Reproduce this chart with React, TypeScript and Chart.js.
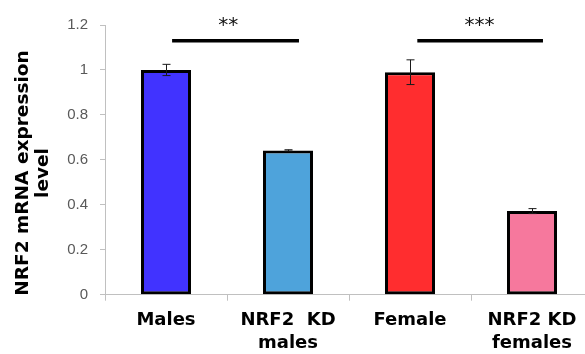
import React, { useEffect, useRef } from "react";
import { Chart, registerables } from "chart.js";

Chart.register(...registerables);

// Groups along the x axis (multi-line labels)
const groups: string[][] = [["Males"], ["NRF2  KD", "males"], ["Female"], ["NRF2 KD", "females"]];
// Relative NRF2 mRNA expression and standard error
const expression = [1.0, 0.642, 0.99, 0.372];
const stdError = [0.025, 0.003, 0.055, 0.011];
const barColors = ["#4133FF", "#4EA3DB", "#FF2D2F", "#F6789D"];
// Y axis tick values
const yTicks = [0, 0.2, 0.4, 0.6, 0.8, 1, 1.2];
const yTitle = ["NRF2 mRNA expression", "level"];
// Significance brackets: start/end (category index), height, label position
const sigFrom = [0.05, 2.06];
const sigTo = [1.09, 3.09];
const sigLevel = [1.13, 1.13];
const sigLabelAt = [0.51, 2.57];
const sigLabels = ["**", "***"];

const overlays = {
  id: "overlays",
  afterDatasetsDraw(chart: any) {
    const { ctx } = chart;
    const x = chart.scales.x;
    const y = chart.scales.y;
    ctx.save();
    // error bars
    ctx.strokeStyle = "#1a1a1a";
    ctx.lineWidth = 1;
    expression.forEach((v, i) => {
      const cx = Math.round(x.getPixelForValue(i)) + 0.5;
      const hi = y.getPixelForValue(v + stdError[i]);
      const lo = y.getPixelForValue(v - stdError[i]);
      ctx.beginPath();
      ctx.moveTo(cx, hi);
      ctx.lineTo(cx, lo);
      ctx.moveTo(cx - 4, hi);
      ctx.lineTo(cx + 4, hi);
      ctx.moveTo(cx - 4, lo);
      ctx.lineTo(cx + 4, lo);
      ctx.stroke();
    });
    // significance lines and stars
    ctx.strokeStyle = "#000";
    ctx.lineWidth = 3.5;
    ctx.fillStyle = "#111";
    ctx.font = "20px 'DejaVu Sans'";
    ctx.textAlign = "center";
    ctx.textBaseline = "alphabetic";
    sigFrom.forEach((f, i) => {
      const py = y.getPixelForValue(sigLevel[i]);
      ctx.beginPath();
      ctx.moveTo(x.getPixelForValue(f), py);
      ctx.lineTo(x.getPixelForValue(sigTo[i]), py);
      ctx.stroke();
      ctx.fillText(sigLabels[i], x.getPixelForValue(sigLabelAt[i]), py - 10);
    });
    ctx.restore();
  },
  afterDraw(chart: any) {
    const { ctx } = chart;
    ctx.save();
    ctx.translate(0, 173);
    ctx.rotate(-Math.PI / 2);
    ctx.scale(1.09, 1);
    ctx.fillStyle = "#000";
    ctx.font = "bold 17px 'DejaVu Sans'";
    ctx.textAlign = "center";
    ctx.textBaseline = "middle";
    ctx.fillText(yTitle[0], 0, 24);
    ctx.fillText(yTitle[1], 0, 43.5);
    ctx.restore();
  },
};

export default function App() {
  const ref = useRef<HTMLCanvasElement>(null);
  useEffect(() => {
    const chart = new Chart(ref.current!, {
      type: "bar",
      data: {
        labels: groups,
        datasets: [
          {
            data: expression,
            backgroundColor: barColors,
            borderColor: "#000",
            borderWidth: 3,
            borderSkipped: false,
            categoryPercentage: 1,
            barPercentage: 0.41,
          },
        ],
      },
      options: {
        responsive: false,
        animation: false,
        devicePixelRatio: 1,
        layout: { padding: { top: 25, right: 7, left: 0, bottom: 0 } },
        plugins: { legend: { display: false }, tooltip: { enabled: false } },
        scales: {
          x: {
            offset: true,
            grid: { offset: true, drawOnChartArea: false, drawTicks: true, tickLength: 6, color: "#c0c0c0" },
            border: { color: "#c0c0c0", width: 1 },
            ticks: {
              color: "#000",
              font: { family: "'DejaVu Sans'", size: 18, weight: "bold", lineHeight: 1.3 },
              padding: 8,
              maxRotation: 0,
              autoSkip: false,
            },
            afterFit: (s: any) => {
              s.height = 59.3;
            },
          },
          y: {
            min: 0,
            max: 1.2,
            afterBuildTicks: (s: any) => {
              s.ticks = yTicks.map((v) => ({ value: v }));
            },
            grid: { drawOnChartArea: false, drawTicks: true, tickLength: 5, color: "#c0c0c0" },
            border: { color: "#c0c0c0", width: 1 },
            ticks: {
              color: "#595959",
              font: { family: "'Liberation Sans'", size: 15 },
              padding: 12,
              callback: (v: any) => String(v),
            },
            afterFit: (s: any) => {
              s.width = 105;
            },
          },
        },
      },
      plugins: [overlays],
    });
    return () => chart.destroy();
  }, []);
  return (
    <div style={{ position: "fixed", left: 0, top: 0, width: 585, height: 354, overflow: "hidden", background: "#fff" }}>
      <canvas ref={ref} width={600} height={354} style={{ display: "block", width: 600, height: 354 }} />
    </div>
  );
}
